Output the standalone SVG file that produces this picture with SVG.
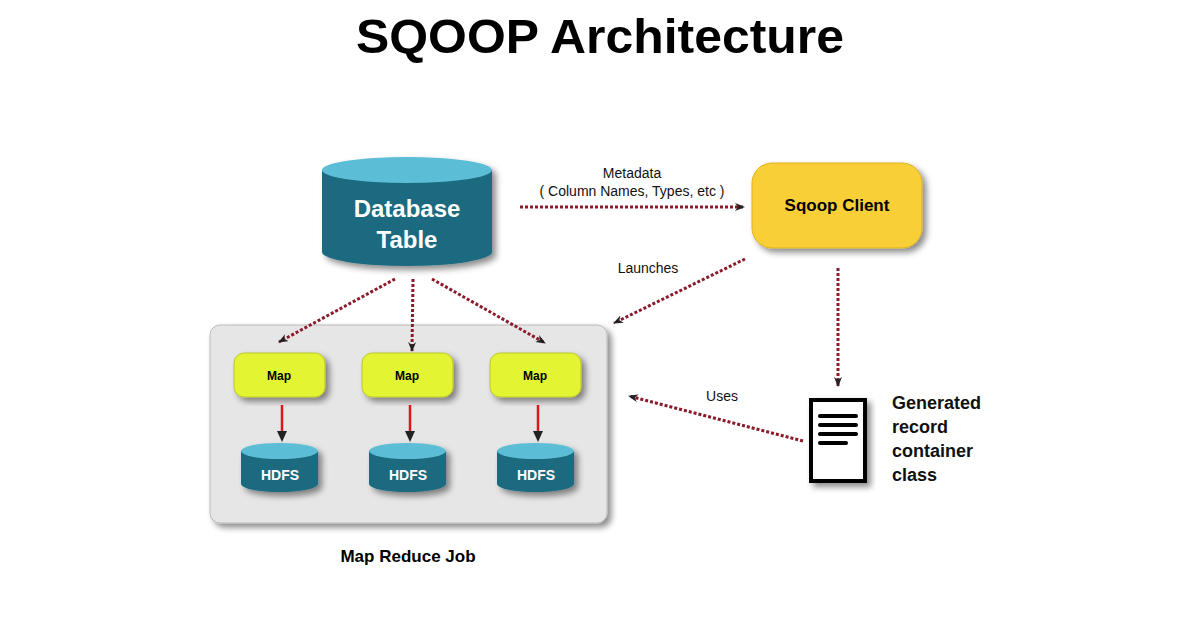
<svg xmlns="http://www.w3.org/2000/svg" width="1200" height="630" viewBox="0 0 1200 630">
<defs>
<style>
.t{font-family:"Liberation Sans",Arial,sans-serif}
.b{font-weight:bold}
.dot{stroke:#8b1a2b;stroke-width:3;stroke-dasharray:3 2;fill:none;marker-end:url(#ah)}
.cyl{fill:#1f6b80}
.cylt{fill:#5bbdd6}
.map{fill:#e3f531;stroke:#b9c72a;stroke-width:1}
</style>
<marker id="ah" markerWidth="10" markerHeight="8" refX="9" refY="4" orient="auto" markerUnits="userSpaceOnUse"><path d="M0,0 L10,4 L0,8 L3,4 Z" fill="#222"/></marker>
<filter id="sh" x="-10%" y="-10%" width="130%" height="130%"><feDropShadow dx="4" dy="4" stdDeviation="3" flood-color="#000" flood-opacity="0.45"/></filter>
</defs>
<rect width="1200" height="630" fill="#fff"/>
<text class="t b" x="600" y="53" font-size="48" text-anchor="middle" fill="#000" textLength="488" lengthAdjust="spacingAndGlyphs">SQOOP Architecture</text>

<g id="mapreduce">
<rect x="210" y="325" width="397" height="198" rx="10" fill="#e6e6e6" stroke="#bbb" filter="url(#sh)"/>
<text class="t b" x="408" y="562" font-size="17" text-anchor="middle">Map Reduce Job</text>
</g>

<g id="database">
<g filter="url(#sh)">
<path class="cyl" d="M322,170 L322,252 A85,14 0 0 0 492,252 L492,170 Z"/>
<ellipse class="cylt" cx="407" cy="170" rx="85" ry="13"/>
</g>
<text class="t b" x="407" y="217" font-size="24" text-anchor="middle" fill="#fff">Database</text>
<text class="t b" x="407" y="248" font-size="24" text-anchor="middle" fill="#fff">Table</text>
</g>

<g id="sqoop">
<rect x="752" y="163" width="170" height="85" rx="20" fill="#f9cf38" stroke="#e0b020" filter="url(#sh)"/>
<text class="t b" x="837" y="211" font-size="17" text-anchor="middle">Sqoop Client</text>
</g>

<g id="map1"><rect class="map" x="234" y="353" width="91" height="44" rx="10" filter="url(#sh)"/><text class="t b" x="279" y="380" font-size="12" text-anchor="middle">Map</text></g>
<g id="map2"><rect class="map" x="362" y="353" width="91" height="44" rx="10" filter="url(#sh)"/><text class="t b" x="407" y="380" font-size="12" text-anchor="middle">Map</text></g>
<g id="map3"><rect class="map" x="490" y="353" width="91" height="44" rx="10" filter="url(#sh)"/><text class="t b" x="535" y="380" font-size="12" text-anchor="middle">Map</text></g>

<g id="hdfs1"><g filter="url(#sh)"><path class="cyl" d="M241,451 L241,484 A38.5,8 0 0 0 318,484 L318,451 Z"/><ellipse class="cylt" cx="279.5" cy="451" rx="38.5" ry="8"/></g><text class="t b" x="280" y="480" font-size="14" text-anchor="middle" fill="#fff">HDFS</text></g>
<g id="hdfs2"><g filter="url(#sh)"><path class="cyl" d="M369,451 L369,484 A38.5,8 0 0 0 446,484 L446,451 Z"/><ellipse class="cylt" cx="407.5" cy="451" rx="38.5" ry="8"/></g><text class="t b" x="408" y="480" font-size="14" text-anchor="middle" fill="#fff">HDFS</text></g>
<g id="hdfs3"><g filter="url(#sh)"><path class="cyl" d="M497,451 L497,484 A38.5,8 0 0 0 574,484 L574,451 Z"/><ellipse class="cylt" cx="535.5" cy="451" rx="38.5" ry="8"/></g><text class="t b" x="536" y="480" font-size="14" text-anchor="middle" fill="#fff">HDFS</text></g>

<g id="document">
<rect x="811" y="400" width="54" height="81" fill="#fff" stroke="#000" stroke-width="4" filter="url(#sh)"/>
<g stroke="#000" stroke-width="4" stroke-linecap="round"><line x1="820" y1="416" x2="856" y2="416"/><line x1="820" y1="425" x2="856" y2="425"/><line x1="820" y1="434" x2="856" y2="434"/><line x1="820" y1="443" x2="846" y2="443"/></g>
<g class="t b" font-size="18" fill="#111"><text x="892" y="409">Generated</text><text x="892" y="433">record</text><text x="892" y="457">container</text><text x="892" y="481">class</text></g>
</g>

<g id="connectors">
<path class="dot" d="M520,207 L744,207"/>
<path class="dot" d="M745,259 L614,323"/>
<path class="dot" d="M838,268 L838,386"/>
<path class="dot" d="M803,441 L629,396"/>
<path class="dot" d="M395,279 L279,342"/>
<path class="dot" d="M413,279 L412,351"/>
<path class="dot" d="M432,279 L545,343"/>
<g stroke="#e0161b" stroke-width="2.5"><line x1="282" y1="405" x2="282" y2="432"/><line x1="410" y1="405" x2="410" y2="432"/><line x1="538" y1="405" x2="538" y2="432"/></g>
<g fill="#222"><path d="M277,431 L287,431 L282,442 Z"/><path d="M405,431 L415,431 L410,442 Z"/><path d="M533,431 L543,431 L538,442 Z"/></g>
<g class="t" font-size="14" fill="#111" text-anchor="middle"><text x="632" y="178">Metadata</text><text x="632" y="196">( Column Names, Types, etc )</text><text x="648" y="273">Launches</text><text x="722" y="401">Uses</text></g>
</g>
</svg>
